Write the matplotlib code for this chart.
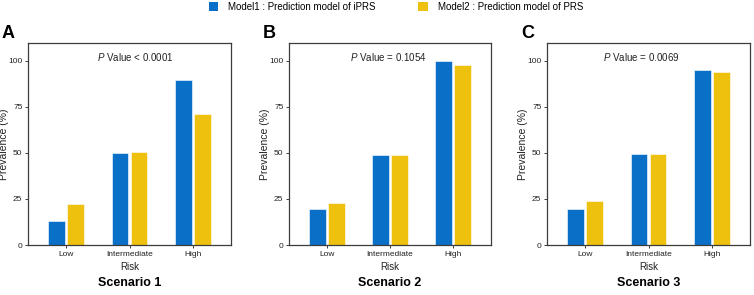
import matplotlib as mpl

mpl.use("Agg")
import matplotlib.pyplot as plt
from matplotlib.patches import Patch
import numpy as np

#
# --- fonts: Arial-like look
#
plt.rcParams["font.family"] = ["Liberation Sans", "DejaVu Sans"]
plt.rcParams["mathtext.fontset"] = "custom"
plt.rcParams["mathtext.it"] = "Liberation Sans:italic"
plt.rcParams["mathtext.rm"] = "Liberation Sans"

#
# --- data
#
categories = ["Low", "Intermediate", "High"]
model1_s1 = [13.0, 49.8, 89.5]
model2_s1 = [22.0, 50.3, 71.1]
model1_s2 = [19.6, 48.7, 99.8]
model2_s2 = [22.6, 48.8, 97.7]
model1_s3 = [19.3, 49.4, 95.0]
model2_s3 = [24.0, 49.2, 94.1]
p_labels = ["< 0.0001", "= 0.1054", "= 0.0069"]
panel_letters = ["A", "B", "C"]
scenario_titles = ["Scenario 1", "Scenario 2", "Scenario 3"]
legend_labels = ["Model1 : Prediction model of iPRS", "Model2 : Prediction model of PRS"]
yticks = [0, 25, 50, 75, 100]

BLUE = "#0a6fc6"
YELLOW = "#efc10f"
SPINE = "#3c3c3c"

W, H = 754, 295
fig = plt.figure(figsize=(W / 100, H / 100), dpi=100)

#
# --- axes boxes in pixels: (left, right), top=43, bottom=245
#
boxes = [(28, 231), (289, 491), (547, 750)]
p_xpos = [1.09, 0.97, 0.89]
series = [(model1_s1, model2_s1), (model1_s2, model2_s2), (model1_s3, model2_s3)]
top, bottom = 43, 245

x = np.arange(len(categories))
bw = 0.265
off = 0.15

for i, (l, r) in enumerate(boxes):
    ax = fig.add_axes([l / W, (H - bottom) / H, (r - l) / W, (bottom - top) / H])
    m1, m2 = series[i]
    ax.bar(x - off, m1, width=bw, color=BLUE, edgecolor="white", linewidth=0.4)
    ax.bar(x + off, m2, width=bw, color=YELLOW, edgecolor="white", linewidth=0.4)
    ax.set_xlim(-0.6, 2.6)
    ax.set_ylim(0, 109.6)
    ax.set_xticks(x)
    ax.set_xticklabels(categories)
    ax.set_yticks(yticks)
    ax.tick_params(labelsize=6, length=2.5, width=0.7, color=SPINE,
                   labelcolor="#222222", pad=1.5)
    for s in ax.spines.values():
        s.set_color(SPINE)
        s.set_linewidth(0.9)
    ax.set_xlabel("Risk", fontsize=7, labelpad=3, color="#222222")
    ax.set_ylabel("Prevalence (%)", fontsize=7.5, color="#222222")
    # --- label anchor is its right edge once rotated
    ax.yaxis.set_label_coords(-18.5 / (r - l), 0.5)
    ax.text(p_xpos[i], 102.2, "$\\it{P}$ Value " + p_labels[i],
            ha="center", va="center", fontsize=7, color="#222222")
    #
    # --- panel letter and scenario title
    #
    fig.text((l - 26) / W, 1 - 34 / H, panel_letters[i], fontsize=13,
             fontweight="bold", ha="left", va="center")
    fig.text((l + r) / 2 / W, 1 - 283 / H, scenario_titles[i], fontsize=9,
             fontweight="bold", ha="center", va="center")

handles = [Patch(facecolor=BLUE, edgecolor="none"),
           Patch(facecolor=YELLOW, edgecolor="none")]
fig.legend(handles, legend_labels, loc="center", bbox_to_anchor=(396 / W, 1 - 7 / H),
           ncol=2, frameon=False, fontsize=7, handlelength=1.0, handleheight=1.0,
           handletextpad=1.0, columnspacing=4.4, borderpad=0, borderaxespad=0)

plt.savefig("out.png", dpi=100)
